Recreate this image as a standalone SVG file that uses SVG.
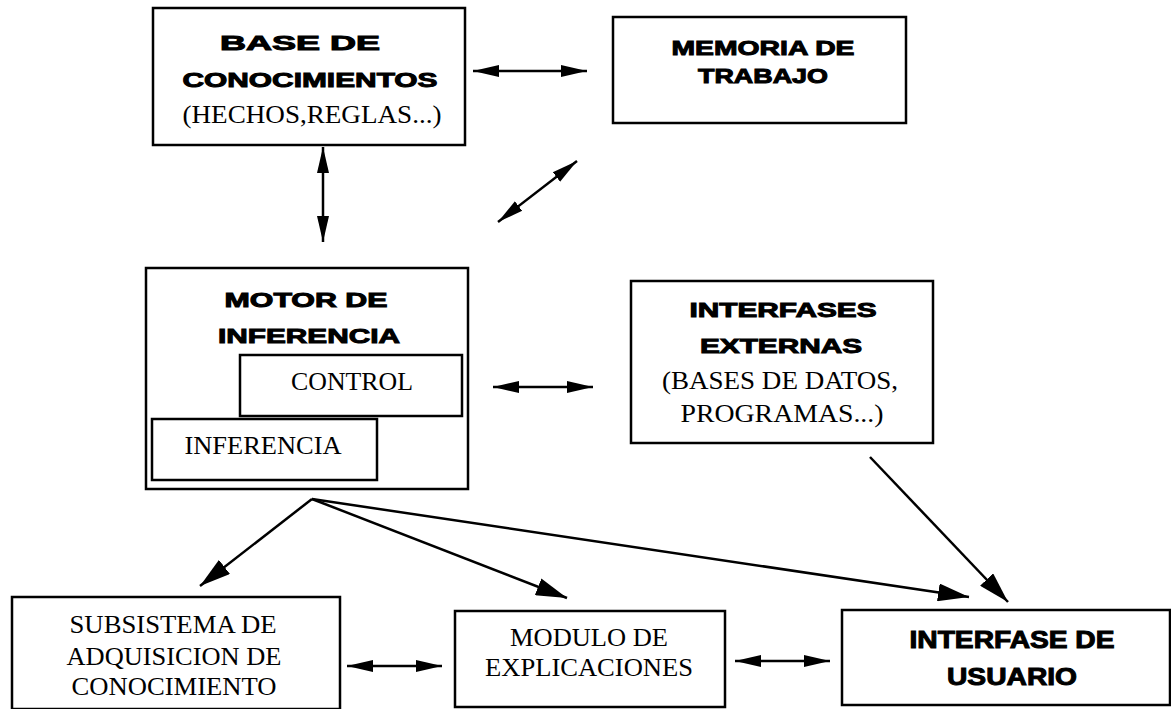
<svg xmlns="http://www.w3.org/2000/svg" width="1171" height="709" viewBox="0 0 1171 709">
<style>
.box{fill:#fff;stroke:#000;stroke-width:2.5}
.b{font-family:"Liberation Sans",Arial,sans-serif;font-weight:900;fill:#000;stroke:#000;stroke-width:1;text-anchor:middle}
.s{font-family:"Liberation Serif","Times New Roman",serif;fill:#000;text-anchor:middle}
.c{stroke:#000;stroke-width:2.5;fill:none}
.d{marker-start:url(#hs);marker-end:url(#he)}
.a{marker-end:url(#he2)}
</style>
<defs>
<marker id="he" markerUnits="userSpaceOnUse" markerWidth="28" markerHeight="14" refX="26" refY="7" orient="auto"><path d="M0,1 L26,7 L0,13 z" fill="#000"/></marker>
<marker id="hs" markerUnits="userSpaceOnUse" markerWidth="28" markerHeight="14" refX="26" refY="7" orient="auto-start-reverse"><path d="M0,1 L26,7 L0,13 z" fill="#000"/></marker>
<marker id="he2" markerUnits="userSpaceOnUse" markerWidth="32" markerHeight="18" refX="31" refY="9" orient="auto"><path d="M0,0 L31,9 L0,18 z" fill="#000"/></marker>
</defs>
<g id="connectors">
<line class="c d" x1="473" y1="71" x2="587" y2="71"/>
<line class="c d" x1="323" y1="147" x2="323" y2="242"/>
<line class="c d" x1="498" y1="222" x2="577" y2="161"/>
<line class="c d" x1="493" y1="387" x2="593" y2="387"/>
<line class="c d" x1="347" y1="666" x2="442" y2="666"/>
<line class="c d" x1="735" y1="661" x2="830" y2="661"/>
<line class="c a" x1="312" y1="499" x2="200" y2="586"/>
<line class="c a" x1="312" y1="499" x2="567" y2="598"/>
<line class="c a" x1="312" y1="499" x2="969" y2="597"/>
<line class="c a" x1="870" y1="457" x2="1008" y2="602"/>
</g>
<g id="base">
<rect class="box" x="153" y="8" width="312" height="137"/>
<text class="b" x="300" y="50" font-size="21" textLength="160" lengthAdjust="spacingAndGlyphs">BASE DE</text>
<text class="b" x="310" y="87" font-size="21" textLength="255" lengthAdjust="spacingAndGlyphs">CONOCIMIENTOS</text>
<text class="s" x="312" y="123" font-size="25" textLength="259" lengthAdjust="spacingAndGlyphs">(HECHOS,REGLAS...)</text>
</g>
<g id="memoria">
<rect class="box" x="613" y="17" width="293" height="106"/>
<text class="b" x="763" y="55" font-size="21" textLength="183" lengthAdjust="spacingAndGlyphs">MEMORIA DE</text>
<text class="b" x="763" y="83" font-size="21" textLength="130" lengthAdjust="spacingAndGlyphs">TRABAJO</text>
</g>
<g id="motor">
<rect class="box" x="146" y="268" width="322" height="221"/>
<text class="b" x="306" y="307" font-size="21" textLength="163" lengthAdjust="spacingAndGlyphs">MOTOR DE</text>
<text class="b" x="309" y="343" font-size="21" textLength="182" lengthAdjust="spacingAndGlyphs">INFERENCIA</text>
<g id="control">
<rect class="box" x="240" y="355" width="222" height="61"/>
<text class="s" x="352" y="390" font-size="25" textLength="122" lengthAdjust="spacingAndGlyphs">CONTROL</text>
</g>
<g id="inferencia">
<rect class="box" x="152" y="419" width="225" height="61"/>
<text class="s" x="263" y="454" font-size="25" textLength="157" lengthAdjust="spacingAndGlyphs">INFERENCIA</text>
</g>
</g>
<g id="interfases">
<rect class="box" x="631" y="281" width="302" height="162"/>
<text class="b" x="783" y="317" font-size="21" textLength="187" lengthAdjust="spacingAndGlyphs">INTERFASES</text>
<text class="b" x="781" y="353" font-size="21" textLength="162" lengthAdjust="spacingAndGlyphs">EXTERNAS</text>
<text class="s" x="780" y="389" font-size="26" textLength="236" lengthAdjust="spacingAndGlyphs">(BASES DE DATOS,</text>
<text class="s" x="782" y="422" font-size="26" textLength="203" lengthAdjust="spacingAndGlyphs">PROGRAMAS...)</text>
</g>
<g id="subsistema">
<rect class="box" x="12" y="597" width="328" height="112"/>
<text class="s" x="173" y="633" font-size="26" textLength="207" lengthAdjust="spacingAndGlyphs">SUBSISTEMA DE</text>
<text class="s" x="174" y="665" font-size="26" textLength="215" lengthAdjust="spacingAndGlyphs">ADQUISICION DE</text>
<text class="s" x="174" y="695" font-size="26" textLength="205" lengthAdjust="spacingAndGlyphs">CONOCIMIENTO</text>
</g>
<g id="modulo">
<rect class="box" x="455" y="611" width="270" height="96"/>
<text class="s" x="589" y="646" font-size="26" textLength="158" lengthAdjust="spacingAndGlyphs">MODULO DE</text>
<text class="s" x="589" y="676" font-size="26" textLength="208" lengthAdjust="spacingAndGlyphs">EXPLICACIONES</text>
</g>
<g id="usuario">
<rect class="box" x="842" y="610" width="328" height="95"/>
<text class="b" x="1012" y="648" font-size="24" textLength="205" lengthAdjust="spacingAndGlyphs">INTERFASE DE</text>
<text class="b" x="1012" y="685" font-size="24" textLength="130" lengthAdjust="spacingAndGlyphs">USUARIO</text>
</g>
</svg>
